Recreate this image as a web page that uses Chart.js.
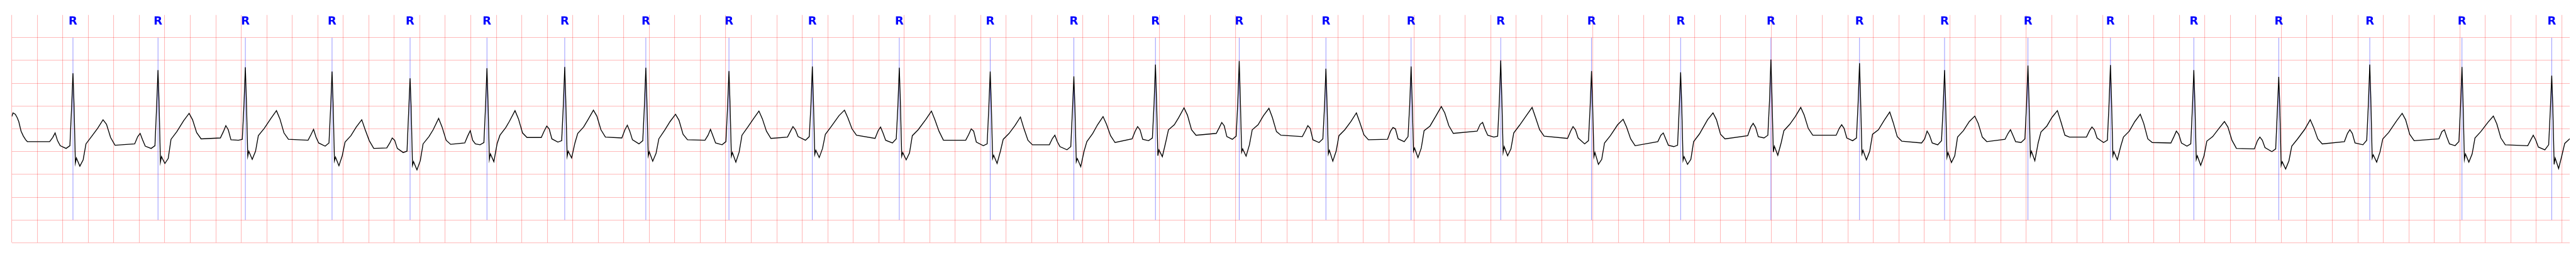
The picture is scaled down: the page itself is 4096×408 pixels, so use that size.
<!DOCTYPE html>
<html>
<head>
<meta charset="utf-8">
<script src="https://cdn.jsdelivr.net/npm/chart.js@4.4.1/dist/chart.umd.min.js"></script>
<style>
  html, body { margin: 0; padding: 0; background: #fff; }
  #wrap { width: 4096px; height: 408px; position: relative; }
</style>
</head>
<body>
<div id="wrap"><canvas id="ecg"></canvas></div>
<script>
// time in ms, amplitude in mV (grid: 200 ms x 0.5 mV)
const leadInMs = [0, 10, 28, 42, 55, 73, 91, 109, 122];
const leadInMv = [0.77, 0.85, 0.82, 0.75, 0.66, 0.45, 0.34, 0.26, 0.22];

const rPeakMs = [480, 1147, 1832, 2512, 3124, 3727, 4337, 4973, 5625, 6279, 6961, 7674, 8330, 8970, 9627,
  10307, 10975, 11678, 12390, 13089, 13797, 14492, 15159, 15813, 16460, 17114, 17780, 18494, 19217, 19921];
// P peak before R, T peak after R (ms)
const pLagMs = [140, 140, 153, 145, 140, 131, 141, 145, 145, 152, 147, 149, 149, 140, 137,
  142, 142, 142, 145, 136, 139, 140, 137, 137, 145, 137, 148, 156, 138, 145];
const tLagMs = [236, 244, 244, 233, 224, 220, 225, 233, 235, 252, 252, 237, 229, 224, 233,
  239, 237, 246, 248, 254, 234, 237, 237, 231, 234, 240, 247, 254, 246, null];

// P wave
const pStart = [0.22, 0.17, 0.30, 0.25, 0.08, 0.19, 0.31, 0.30, 0.25, 0.32, 0.29, 0.25, 0.15, 0.28, 0.40,
  0.33, 0.27, 0.45, 0.29, 0.22, 0.35, 0.36, 0.19, 0.27, 0.32, 0.19, 0.06, 0.22, 0.28, 0.13];
const pUp = [0.31, 0.33, 0.44, 0.38, 0.19, 0.35, 0.46, 0.48, 0.36, 0.45, 0.46, 0.38, 0.29, 0.45, 0.53,
  0.46, 0.45, 0.60, 0.45, 0.36, 0.54, 0.51, 0.28, 0.40, 0.46, 0.33, 0.24, 0.40, 0.44, 0.26];
const pPeak = [0.41, 0.40, 0.57, 0.49, 0.30, 0.46, 0.56, 0.58, 0.49, 0.55, 0.54, 0.50, 0.36, 0.55, 0.64,
  0.57, 0.53, 0.64, 0.55, 0.41, 0.62, 0.59, 0.45, 0.48, 0.54, 0.45, 0.32, 0.48, 0.48, 0.36];
const pDown = [0.24, 0.26, 0.48, 0.32, 0.25, 0.25, 0.50, 0.45, 0.35, 0.48, 0.41, 0.45, 0.22, 0.48, 0.57,
  0.51, 0.50, 0.49, 0.48, 0.28, 0.53, 0.51, 0.36, 0.36, 0.48, 0.38, 0.25, 0.40, 0.32, 0.26];
const pEnd = [0.13, 0.12, 0.26, 0.19, 0.07, 0.17, 0.28, 0.26, 0.19, 0.33, 0.25, 0.21, 0.11, 0.27, 0.33,
  0.26, 0.28, 0.36, 0.30, 0.14, 0.33, 0.30, 0.19, 0.22, 0.30, 0.19, 0.09, 0.19, 0.17, 0.10];
// PR segment and QRS
const prSeg = [0.07, 0.07, 0.25, 0.12, -0.02, 0.15, 0.21, 0.17, 0.15, 0.25, 0.19, 0.13, 0.04, 0.24, 0.27,
  0.20, 0.22, 0.32, 0.17, 0.11, 0.30, 0.24, 0.15, 0.20, 0.20, 0.12, 0.00, 0.15, 0.13, 0.04];
const qOnset = [0.13, 0.13, 0.27, 0.19, 0.01, 0.20, 0.24, 0.24, 0.22, 0.33, 0.28, 0.17, 0.11, 0.30, 0.34,
  0.28, 0.33, 0.34, 0.24, 0.14, 0.36, 0.30, 0.24, 0.28, 0.25, 0.17, 0.06, 0.25, 0.22, 0.15];
const rUp = [0.95, 0.98, 1.02, 0.97, 0.89, 1.01, 1.02, 1.01, 0.97, 1.03, 1.01, 0.97, 0.91, 1.05, 1.09,
  1.00, 1.03, 1.10, 0.97, 0.96, 1.11, 1.07, 0.98, 1.04, 1.05, 0.98, 0.90, 1.05, 1.02, 0.92];
const rPeak = [1.72, 1.79, 1.85, 1.76, 1.61, 1.83, 1.86, 1.84, 1.77, 1.87, 1.84, 1.76, 1.65, 1.91, 1.99,
  1.82, 1.87, 2.00, 1.77, 1.74, 2.02, 1.94, 1.79, 1.89, 1.90, 1.79, 1.64, 1.91, 1.86, 1.67];
const rDown = [1.07, 1.11, 1.15, 1.09, 1.00, 1.13, 1.15, 1.14, 1.10, 1.16, 1.14, 1.09, 1.02, 1.18, 1.23,
  1.13, 1.16, 1.24, 1.10, 1.08, 1.25, 1.20, 1.11, 1.17, 1.18, 1.11, 1.02, 1.18, 1.15, 1.04];
const sNotch = [-0.25, -0.23, -0.10, -0.20, -0.30, -0.17, -0.10, -0.09, -0.10, -0.06, -0.10, -0.15, -0.22, -0.09, -0.01,
  -0.05, 0.01, -0.01, -0.11, -0.19, -0.01, -0.05, -0.12, -0.09, -0.09, -0.17, -0.30, -0.14, -0.17, -0.28];
const sBump = [-0.14, -0.11, 0.01, -0.12, -0.22, -0.05, 0.01, 0.00, -0.02, 0.03, -0.02, -0.08, -0.15, 0.04, 0.06,
  0.03, 0.08, 0.11, -0.02, -0.11, 0.12, 0.03, -0.02, 0.01, 0.00, -0.09, -0.22, -0.07, -0.05, -0.14];
const sMin = [-0.32, -0.26, -0.17, -0.31, -0.40, -0.22, -0.14, -0.21, -0.23, -0.13, -0.18, -0.26, -0.33, -0.11, -0.10,
  -0.21, -0.13, -0.09, -0.28, -0.28, -0.08, -0.18, -0.24, -0.20, -0.18, -0.30, -0.38, -0.23, -0.23, -0.37];
const jRise = [-0.18, -0.15, 0.01, -0.09, -0.20, 0.18, 0.19, -0.04, -0.01, 0.07, -0.03, 0.01, 0.01, 0.20, 0.15,
  0.01, 0.08, 0.06, -0.17, -0.17, 0.19, 0.01, -0.09, 0.19, 0.11, -0.09, -0.20, -0.01, -0.05, -0.08];
const jPoint = [0.17, 0.27, 0.35, 0.21, 0.17, 0.36, 0.40, 0.28, 0.36, 0.38, 0.35, 0.27, 0.22, 0.48, 0.48,
  0.35, 0.46, 0.41, 0.19, 0.22, 0.46, 0.38, 0.32, 0.43, 0.32, 0.23, 0.12, 0.28, 0.30, 0.18];
const stSeg = [0.34, 0.44, 0.51, 0.35, 0.33, 0.53, 0.54, 0.47, 0.54, 0.55, 0.48, 0.40, 0.40, 0.59, 0.59,
  0.48, 0.56, 0.58, 0.35, 0.39, 0.60, 0.48, 0.46, 0.56, 0.45, 0.33, 0.28, 0.42, 0.44, 0.30];
// T wave
const tUp = [0.51, 0.68, 0.73, 0.54, 0.48, 0.67, 0.70, 0.66, 0.72, 0.79, 0.71, 0.57, 0.59, 0.74, 0.79,
  0.66, 0.78, 0.80, 0.59, 0.70, 0.77, 0.69, 0.66, 0.75, 0.66, 0.51, 0.49, 0.68, 0.64, null];
const tPeak = [0.70, 0.84, 0.90, 0.70, 0.73, 0.90, 0.91, 0.82, 0.89, 0.91, 0.89, 0.76, 0.77, 0.96, 0.95,
  0.85, 0.99, 0.97, 0.71, 0.85, 0.97, 0.87, 0.78, 0.90, 0.82, 0.66, 0.70, 0.84, 0.78, null];
const tDown = [0.60, 0.70, 0.72, 0.48, 0.54, 0.72, 0.78, 0.69, 0.72, 0.74, 0.70, 0.51, 0.60, 0.80, 0.75,
  0.64, 0.85, 0.75, 0.54, 0.70, 0.80, 0.64, 0.62, 0.66, 0.62, 0.54, 0.53, 0.70, 0.61, null];
const tFall = [0.31, 0.42, 0.41, 0.24, 0.25, 0.41, 0.48, 0.38, 0.45, 0.50, 0.45, 0.25, 0.35, 0.48, 0.44,
  0.37, 0.57, 0.48, 0.28, 0.38, 0.51, 0.33, 0.32, 0.36, 0.28, 0.25, 0.28, 0.38, 0.30, null];
const tEnd = [0.14, 0.28, 0.27, 0.07, 0.16, 0.31, 0.32, 0.26, 0.29, 0.36, 0.25, 0.15, 0.20, 0.36, 0.36,
  0.26, 0.40, 0.34, 0.13, 0.28, 0.36, 0.23, 0.22, 0.32, 0.20, 0.07, 0.17, 0.24, 0.15, null];

// where each landmark sits in time
const pOffsetsMs = [-43, -19, 0, 19, 40];          // around the P peak
const qrsOffsetsMs = [-54, -24, -11, 0, 8, 19, 27, 54, 80, 102, 148]; // around the R peak
const tOffsetsMs = [-43, 0, 27, 59, 94];            // around the T peak

const rLabel = 'R';

const points = leadInMs.map((t, i) => ({ x: t, y: leadInMv[i] }));
rPeakMs.forEach((r, i) => {
  const pT = r - pLagMs[i];
  [pStart, pUp, pPeak, pDown, pEnd].forEach((arr, k) => {
    points.push({ x: pT + pOffsetsMs[k], y: arr[i] });
  });
  [prSeg, qOnset, rUp, rPeak, rDown, sNotch, sBump, sMin, jRise, jPoint, stSeg].forEach((arr, k) => {
    points.push({ x: r + qrsOffsetsMs[k], y: arr[i] });
  });
  if (tLagMs[i] !== null) {
    const tT = r + tLagMs[i];
    [tUp, tPeak, tDown, tFall, tEnd].forEach((arr, k) => {
      if (arr[i] !== null) points.push({ x: tT + tOffsetsMs[k], y: arr[i] });
    });
  }
});

const gridColor = 'rgba(255, 0, 0, 0.27)';

// blue markers under the trace, labels on top
const rMarkers = {
  id: 'rMarkers',
  beforeDatasetsDraw(chart) {
    const { ctx, scales: { x, y } } = chart;
    ctx.save();
    ctx.strokeStyle = 'rgba(0, 0, 255, 0.6)';
    ctx.lineWidth = 0.7;
    rPeakMs.forEach((r) => {
      const px = x.getPixelForValue(r);
      ctx.beginPath();
      ctx.moveTo(px, y.getPixelForValue(2.5));
      ctx.lineTo(px, y.getPixelForValue(-1.5));
      ctx.stroke();
    });
    ctx.restore();
  },
  afterDraw(chart) {
    const { ctx, scales: { x, y } } = chart;
    ctx.save();
    ctx.fillStyle = '#0000ff';
    ctx.font = 'bold 18px "DejaVu Sans"';
    ctx.textAlign = 'center';
    ctx.textBaseline = 'alphabetic';
    rPeakMs.forEach((r) => {
      ctx.fillText(rLabel, x.getPixelForValue(r), y.getPixelForValue(2.795));
    });
    ctx.restore();
  }
};

new Chart(document.getElementById('ecg'), {
  type: 'line',
  data: {
    datasets: [{
      data: points,
      borderColor: '#000000',
      borderWidth: 1.35,
      pointRadius: 0,
      tension: 0,
      fill: false
    }]
  },
  options: {
    responsive: true,
    maintainAspectRatio: false,
    animation: false,
    parsing: false,
    layout: { padding: { left: 18.7, right: 10, top: 23.7, bottom: 22.6 } },
    plugins: { legend: { display: false }, tooltip: { enabled: false } },
    scales: {
      x: {
        type: 'linear',
        min: 0,
        max: 20062,
        border: { display: false },
        ticks: { display: false, stepSize: 200, includeBounds: false },
        grid: {
          drawTicks: false,
          lineWidth: 1.1,
          color: (c) => (c.tick && c.tick.value % 200 === 0 ? gridColor : 'rgba(0,0,0,0)')
        }
      },
      y: {
        min: -2,
        max: 3,
        border: { display: false },
        ticks: { display: false, stepSize: 0.5 },
        grid: {
          drawTicks: false,
          lineWidth: 1.1,
          color: (c) => (c.tick && c.tick.value >= 3 ? 'rgba(0,0,0,0)' : gridColor)
        }
      }
    }
  },
  plugins: [rMarkers]
});
</script>
</body>
</html>
